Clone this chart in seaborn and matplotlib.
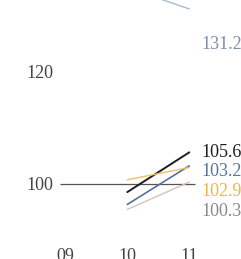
import pandas as pd
import matplotlib.pyplot as plt
import seaborn as sns

years = [10, 11]
series = ['light', 'black', 'blue', 'gold', 'beige']
values = {
    'light': [135.0, 131.2],
    'black': [98.5, 105.6],
    'blue': [96.3, 103.2],
    'gold': [100.7, 102.9],
    'beige': [95.4, 100.3],
}
end_labels = ['131.2', '105.6', '103.2', '102.9', '100.3']
label_pos = [124.9, 105.65, 102.2, 98.65, 95.1]
tick_years = [9, 10, 11]
tick_labels = ['09', '10', '11']

line_colors = {'light': '#aabdd0', 'black': '#1e1e1e', 'blue': '#56719a',
               'gold': '#eec062', 'beige': '#d3c4b4'}
label_colors = ['#7d8ea8', '#1e1e1e', '#5a7398', '#e9b949', '#8a8a8a']
widths = {'light': 1.0, 'black': 1.4, 'blue': 1.2, 'gold': 1.0, 'beige': 1.0}

rows = []
for s in series:
    for y, v in zip(years, values[s]):
        rows.append({'year': y, 'series': s, 'value': v})
df = pd.DataFrame(rows)

sns.set_style('white')
plt.rcParams['font.family'] = ['Liberation Serif', 'DejaVu Serif']

fig = plt.figure(figsize=(2.41, 2.59), dpi=100)
ax = fig.add_axes([60 / 241, 19 / 259, 181 / 241, 240 / 259])

ax.hlines(100, 8.915, 11.092, color='#555555', lw=0.9, zorder=1)
for s in series:
    sns.lineplot(data=df[df['series'] == s], x='year', y='value', color=line_colors[s],
                 lw=widths[s], ax=ax, legend=False, zorder=2)

for lab, pos, c in zip(end_labels, label_pos, label_colors):
    ax.annotate(lab, xy=(11, pos), xytext=(8.4, 0), textcoords='offset points',
                ha='left', va='center', color=c, fontsize=13, annotation_clip=False)

ax.set_xlim(8.915, 11.834)
ax.set_ylim(89.95, 132.8)
ax.set_xticks(tick_years)
ax.set_xticklabels(tick_labels)
ax.set_yticks([100, 120])
ax.set_yticklabels(['100', '120'])
ax.tick_params(length=0, labelsize=13, colors='#444444')
ax.tick_params(axis='y', pad=4.8)
ax.tick_params(axis='x', pad=6)
ax.set_xlabel('')
ax.set_ylabel('')
sns.despine(left=True, bottom=True)

fig.savefig('out.png', dpi=100)
